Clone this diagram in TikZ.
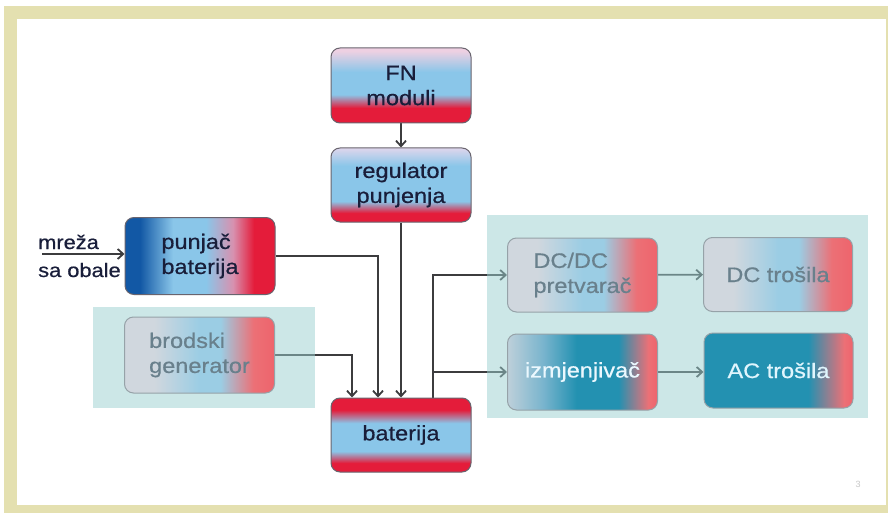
\documentclass[tikz,border=0pt]{standalone}
\usepackage{fontspec}
\setmainfont{Liberation Sans}
\newfontfamily\boxfont[FakeStretch=1.12,FakeBold=0.6]{Liberation Sans}
\usetikzlibrary{arrows.meta}

\definecolor{frameclr}{RGB}{228,224,176}
\definecolor{panelclr}{RGB}{155,209,209}
\definecolor{lineclr}{RGB}{60,60,62}
\definecolor{boxline}{RGB}{105,100,110}
\definecolor{fboxline}{RGB}{150,162,168}
\definecolor{txtdark}{RGB}{25,30,58}
\definecolor{txtfaded}{RGB}{105,128,140}
\definecolor{cRed}{RGB}{228,28,58}
\definecolor{cBlue}{RGB}{138,198,233}
\definecolor{cTop}{RGB}{238,208,226}
\definecolor{cTopB}{RGB}{222,214,236}
\definecolor{cPink}{RGB}{215,145,175}
\definecolor{cDark}{RGB}{18,88,165}
\definecolor{fGray}{RGB}{208,215,222}
\definecolor{fBlue}{RGB}{155,205,228}
\definecolor{fSalmon}{RGB}{236,112,118}
\definecolor{fRed}{RGB}{238,100,108}
\definecolor{iLeft}{RGB}{190,208,218}
\definecolor{iMid}{RGB}{120,180,205}
\definecolor{teal}{RGB}{35,145,177}

\pgfdeclareverticalshading{vsolar}{100bp}{color(0bp)=(cRed); color(25bp)=(cRed); color(35bp)=(cRed); color(44bp)=(cBlue); color(59bp)=(cBlue); color(73bp)=(cTop); color(100bp)=(cTop)}
\pgfdeclareverticalshading{vreg}{100bp}{color(0bp)=(cRed); color(25bp)=(cRed); color(31bp)=(cRed); color(39bp)=(cBlue); color(63bp)=(cBlue); color(75bp)=(cTopB); color(100bp)=(cTopB)}
\pgfdeclareverticalshading{vbat}{100bp}{color(0bp)=(cRed); color(25bp)=(cRed); color(31bp)=(cRed); color(39bp)=(cBlue); color(58bp)=(cBlue); color(67bp)=(cRed); color(100bp)=(cRed)}
\pgfdeclarehorizontalshading{hcharger}{100bp}{color(0bp)=(cDark); color(25bp)=(cDark); color(30bp)=(cDark); color(41bp)=(cBlue); color(52bp)=(cBlue); color(61bp)=(cPink); color(68bp)=(cRed); color(100bp)=(cRed)}
\pgfdeclarehorizontalshading{hfaded}{100bp}{color(0bp)=(fGray); color(25bp)=(fGray); color(35bp)=(fGray); color(50bp)=(fBlue); color(57bp)=(fBlue); color(68bp)=(fSalmon); color(75bp)=(fRed); color(100bp)=(fRed)}
\pgfdeclarehorizontalshading{hinv}{100bp}{color(0bp)=(iLeft); color(25bp)=(iLeft); color(37bp)=(iMid); color(48bp)=(teal); color(62bp)=(teal); color(72bp)=(fSalmon); color(75bp)=(fRed); color(100bp)=(fRed)}
\pgfdeclarehorizontalshading{hac}{100bp}{color(0bp)=(teal); color(25bp)=(teal); color(60bp)=(teal); color(72bp)=(fSalmon); color(75bp)=(fRed); color(100bp)=(fRed)}

\pgfdeclarelayer{bg}
\pgfdeclarelayer{conn}
\pgfdeclarelayer{panel}
\pgfsetlayers{bg,conn,panel,main}

\begin{document}
\begin{tikzpicture}[x=1pt,y=-1pt,
  font=\boxfont\fontsize{21}{25}\selectfont,
  box/.style={rounded corners=9pt, draw=boxline, line width=1pt, minimum width=140pt, minimum height=74pt, align=center, inner sep=0pt, text=txtdark},
  fbox/.style={rounded corners=9pt, draw=fboxline, line width=1pt, minimum width=150pt, minimum height=74pt, align=left, inner sep=0pt, text=txtfaded},
  conn/.style={draw=lineclr, line width=1.8pt, -{Straight Barb[length=5.5pt,width=10pt]}},
  sidetext/.style={anchor=base west, text=txtdark, inner sep=0pt, font=\boxfont\fontsize{19.5}{24}\selectfont},
  panelbox/.style={fill=panelclr, fill opacity=0.5, draw=none}]
\useasboundingbox (0,0) rectangle (888,513);
\begin{pgfonlayer}{bg}
\fill[frameclr] (4,6) rectangle (888,513);
\fill[white] (17,19) rectangle (886,505);
\end{pgfonlayer}

\begin{pgfonlayer}{panel}
\fill[panelbox] (93,307) rectangle (315,408);
\fill[panelbox] (487,215) rectangle (868,418);
\end{pgfonlayer}

\node[box, shading=vsolar, minimum height=75pt] (fn) at (401,85.5) {FN\\moduli};
\node[box, shading=vreg] (reg) at (401,185) {regulator\\punjenja};
\node[box, shading=vbat] (bat) at (401,435) {baterija};
\node[box, shading=hcharger, minimum width=150pt, minimum height=77pt, align=left] (pun) at (200,256) {punjač\\baterija};
\node[fbox, shading=hfaded, minimum height=76pt] (gen) at (199.5,355) {brodski\\generator};
\node[fbox, shading=hfaded] (dcdc) at (582.5,275) {DC/DC\\pretvarač};
\node[fbox, shading=hfaded, minimum width=149pt] (dct) at (778,274.5) {DC trošila};
\node[fbox, shading=hinv, text=white!92!cyan, minimum height=76pt] (inv) at (582.5,372) {izmjenjivač};
\node[fbox, shading=hac, text=white!88!cyan, minimum width=149pt, minimum height=75pt] (act) at (778.5,370.5) {AC trošila};

\node[sidetext] (mreza) at (38,249) {mreža};
\node[sidetext] (obale) at (38,277) {sa obale};
\coordinate (mstart) at (42,254);

\node[text=black!22, font=\fontsize{9}{9}\selectfont] (pg) at (858,484) {3};

\begin{pgfonlayer}{conn}
\draw[conn] (fn) -- (reg);
\draw[conn] (reg) -- (bat);
\draw[conn] (mstart) -- (mstart -| pun.west);
\draw[conn] (pun.east) -| ([xshift=-23pt]bat.north);
\draw[conn] (gen.east) -| ([xshift=-49pt]bat.north);
\draw[conn] ([xshift=32pt]bat.north) |- (dcdc.west);
\draw[conn] ([xshift=32pt]bat.north |- inv.west) -- (inv.west);
\draw[conn] (dcdc) -- (dct);
\draw[conn] (inv.east) -- (inv.east -| act.west);
\end{pgfonlayer}
\end{tikzpicture}
\end{document}
